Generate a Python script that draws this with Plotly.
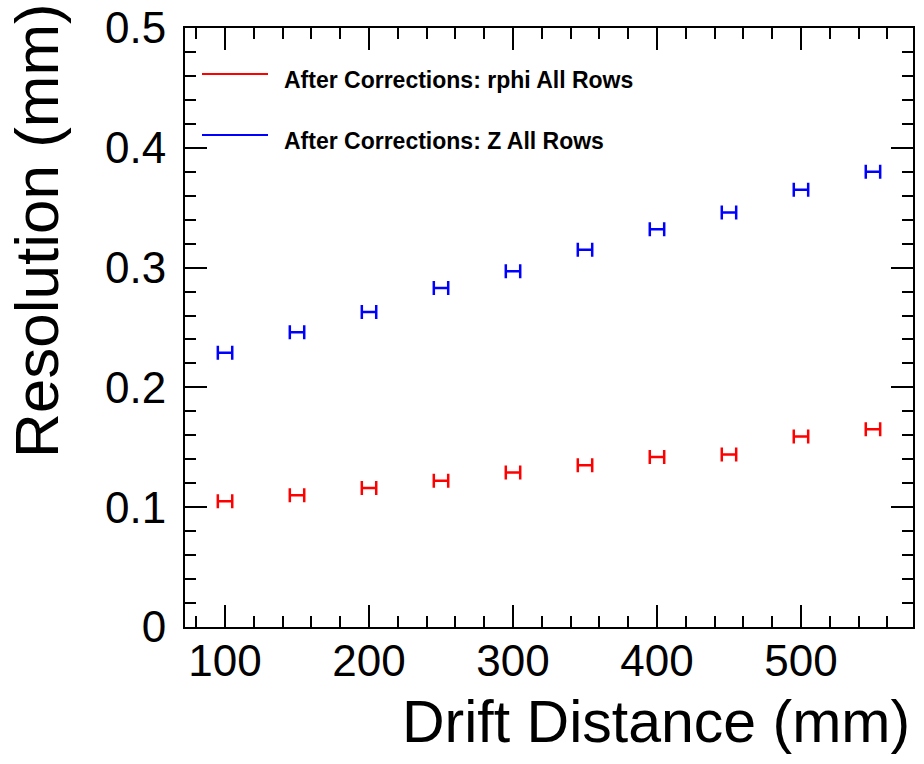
import plotly.graph_objects as go

# Data
drift_distance = [100, 150, 200, 250, 300, 350, 400, 450, 500, 550]
rphi_resolution = [0.105, 0.110, 0.116, 0.122, 0.129, 0.135, 0.142, 0.144, 0.159, 0.165]
z_resolution = [0.229, 0.246, 0.263, 0.283, 0.297, 0.315, 0.332, 0.346, 0.365, 0.380]
x_halfwidth = [5] * len(drift_distance)

series_names = ["After Corrections: rphi All Rows", "After Corrections: Z All Rows"]
series_colors = ["#ff0000", "#0000ff"]

FONT = "Liberation Sans, Arial, Helvetica, sans-serif"

fig = go.Figure()
for name, vals, col in zip(series_names, [rphi_resolution, z_resolution], series_colors):
    fig.add_trace(go.Scatter(
        x=drift_distance, y=vals, mode="markers", name=name,
        marker=dict(size=1, color=col, opacity=0),
        error_x=dict(type="data", array=x_halfwidth, visible=True,
                     color=col, thickness=2.5, width=7),
        showlegend=False,
    ))

axis_common = dict(
    showline=True, linewidth=2, linecolor="black", mirror="allticks",
    ticks="inside", ticklen=22, tickwidth=2, tickcolor="black",
    showgrid=False, zeroline=False, automargin=False,
    tickfont=dict(family=FONT, size=44, color="black"),
)

fig.update_xaxes(range=[72.2, 577.8], dtick=100, tick0=0,
                 minor=dict(dtick=20, tick0=0, ticks="inside", ticklen=11,
                            tickwidth=2, tickcolor="black", showgrid=False),
                 ticklabelstandoff=-6, **axis_common)
fig.update_yaxes(range=[0, 0.5], dtick=0.1, tick0=0,
                 minor=dict(dtick=0.02, tick0=0, ticks="inside", ticklen=11,
                            tickwidth=2, tickcolor="black", showgrid=False),
                 ticklabelstandoff=8, **axis_common)

# Legend drawn as shapes + text (paper coordinates)
L, R, T, B = 185, 913, 28, 627
W, H = R - L, B - T
def px(x):
    return (x - L) / W
def py(y):
    return (B - y) / H

shapes = []
annotations = []
for i, (name, col) in enumerate(zip(series_names, series_colors)):
    ly = [74, 135][i]
    ty = [80, 141][i]
    shapes.append(dict(type="line", xref="paper", yref="paper",
                       x0=px(202), x1=px(268), y0=py(ly), y1=py(ly),
                       line=dict(color=col, width=2)))
    annotations.append(dict(xref="paper", yref="paper", x=px(282), y=py(ty),
                            xanchor="left", yanchor="middle", showarrow=False,
                            text="<b>" + name + "</b>",
                            font=dict(family=FONT, size=23, color="black")))

annotations.append(dict(xref="paper", yref="paper", x=px(912), y=py(722),
                        xanchor="right", yanchor="middle", showarrow=False,
                        text="Drift Distance (mm)",
                        font=dict(family=FONT, size=59, color="black")))
annotations.append(dict(xref="paper", yref="paper", x=px(36), y=py(231),
                        xanchor="center", yanchor="middle", showarrow=False,
                        textangle=-90, text="Resolution (mm)",
                        font=dict(family=FONT, size=62, color="black")))

fig.update_layout(
    width=924, height=764,
    margin=dict(l=L, r=924 - R, t=T, b=764 - B, pad=0, autoexpand=False),
    paper_bgcolor="white", plot_bgcolor="white",
    shapes=shapes, annotations=annotations,
    font=dict(family=FONT, color="black"),
)

fig.write_html("out.html")
